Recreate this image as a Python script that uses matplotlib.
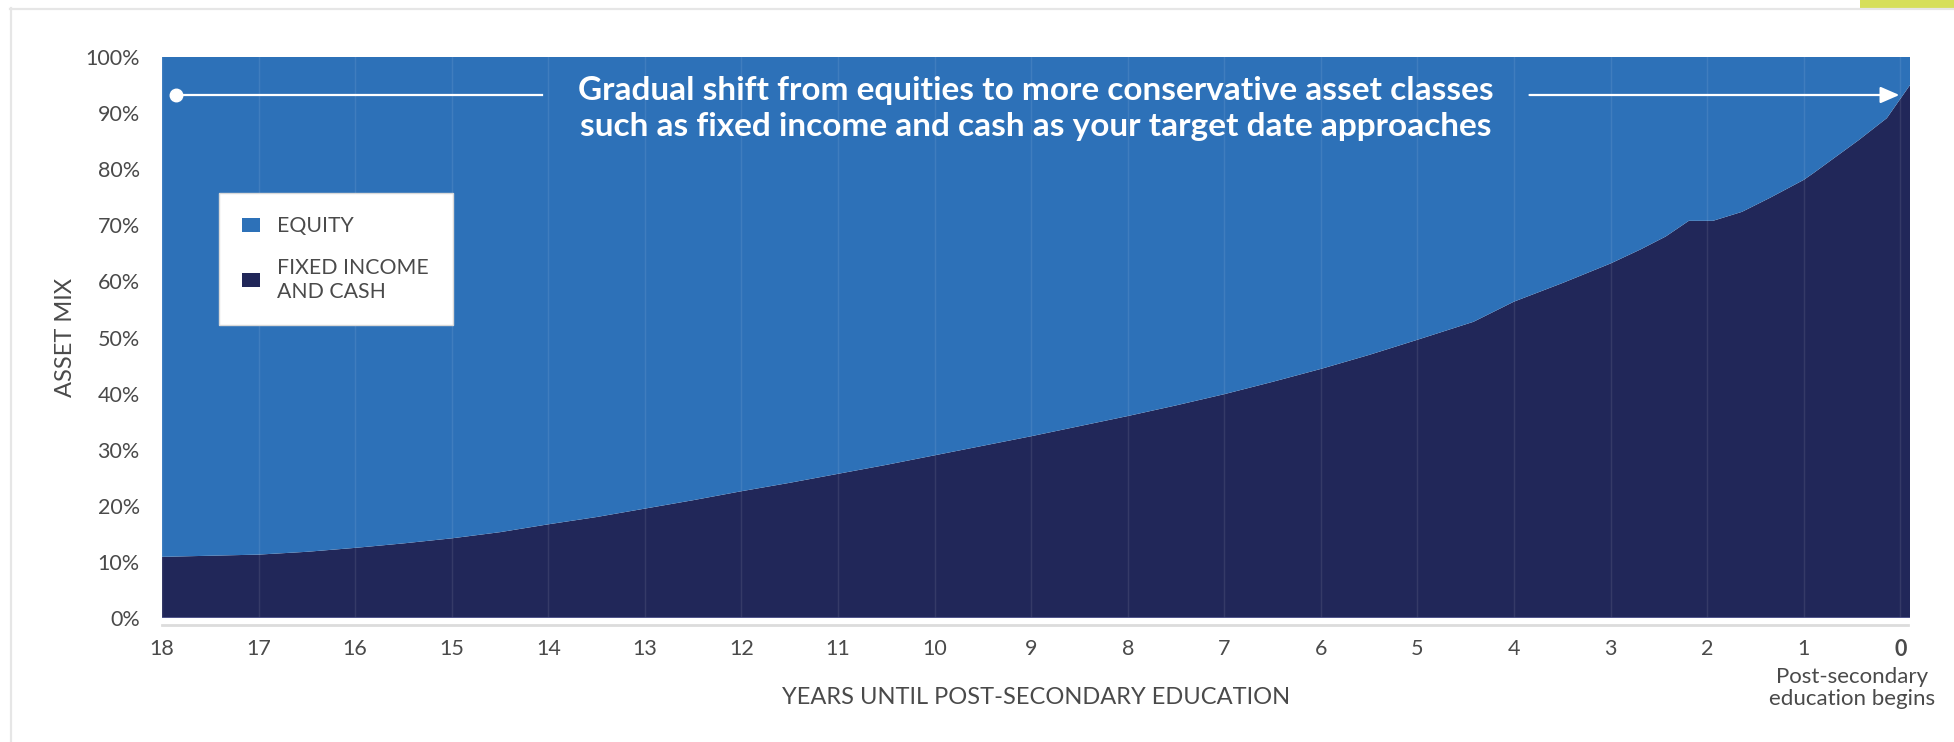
import matplotlib
matplotlib.use("Agg")
import matplotlib.pyplot as plt
from matplotlib.lines import Line2D
from matplotlib.patches import Rectangle, Patch

plt.rcParams['font.family'] = ['Lato', 'DejaVu Sans']

# ---- data ----
years = [18, 17.5, 17, 16.5, 16, 15.5, 15, 14.5, 14, 13.5, 13, 12.5, 12, 11.5, 11,
         10.5, 10, 9.5, 9, 8.5, 8, 7.5, 7, 6.5, 6, 5.5, 5, 4.42, 4, 3.5, 3,
         2.69, 2.43, 2.19, 1.94, 1.64, 1.35, 1, 0.9, 0.43, 0.14, -0.1]
fixed_income = [10.9, 11.1, 11.3, 11.8, 12.5, 13.3, 14.2, 15.3, 16.7, 18.0, 19.5, 21.0,
                22.6, 24.1, 25.7, 27.3, 29.0, 30.7, 32.4, 34.2, 36.0, 37.9, 39.9, 42.1,
                44.4, 46.9, 49.6, 52.8, 56.4, 59.7, 63.2, 65.7, 68.0, 70.8, 70.8, 72.4,
                74.9, 78.1, 79.3, 85.2, 89.1, 95.0]
equity = [100 - v for v in fixed_income]
series_labels = ["EQUITY", "FIXED INCOME\nAND CASH"]
x_ticks = list(range(18, -1, -1))
x_tick_labels = [str(t) for t in x_ticks]
y_ticks = list(range(0, 101, 10))
y_tick_labels = [f"{t}%" for t in y_ticks]
headline = ("Gradual shift from equities to more conservative asset classes\n"
            "such as fixed income and cash as your target date approaches")

EQ_COLOR = "#2d71b8"
FI_COLOR = "#212759"
TXT = "#4a4a4a"

W, H = 1954, 742
fig = plt.figure(figsize=(W / 100, H / 100), dpi=100)
fig.patch.set_facecolor("white")

# card border and tab
fig.add_artist(Line2D([10 / W, 1], [1 - 8.5 / H] * 2, color="#e6e6e6", lw=1.6))
fig.add_artist(Line2D([10.5 / W] * 2, [1 - 8 / H, 0], color="#e6e6e6", lw=1.6))
fig.add_artist(Rectangle((1860 / W, 1 - 8 / H), (W - 1860) / W, 8 / H,
                         transform=fig.transFigure, color="#d6df5a", lw=0))

L, R, T, B = 162, 1910, 57, 618
ax = fig.add_axes([L / W, 1 - B / H, (R - L) / W, (B - T) / H])

polys = ax.stackplot(years, fixed_income, equity, colors=[FI_COLOR, EQ_COLOR],
                     labels=[series_labels[1], series_labels[0]], lw=0)
ax.axhline(0, color="#5b6096", lw=1.2, zorder=3)

ax.set_xlim(18, -0.1)
ax.set_ylim(0, 100)
ax.set_axisbelow(False)
ax.grid(axis="x", color="white", alpha=0.09, lw=1)
ax.grid(axis="y", visible=False)

for s in ["top", "left", "right"]:
    ax.spines[s].set_visible(False)
ax.spines["bottom"].set_position(("outward", 5))
ax.spines["bottom"].set_color("#dcdcdc")
ax.spines["bottom"].set_linewidth(2)
ax.spines["bottom"].set_bounds(18, -0.08)

ax.set_xticks(x_ticks)
ax.set_xticklabels(x_tick_labels)
ax.set_yticks(y_ticks)
ax.set_yticklabels(y_tick_labels)
ax.tick_params(axis="both", length=0, labelsize=15.5, labelcolor=TXT)
ax.tick_params(axis="x", pad=10)
ax.tick_params(axis="y", pad=16)
ax.get_xticklabels()[-1].set_fontweight("bold")

ax.set_xlabel("YEARS UNTIL POST-SECONDARY EDUCATION", fontsize=17, color=TXT)
ax.xaxis.set_label_coords(0.5, (B - 698) / (B - T))
ax.xaxis.label.set_va("center")
ax.set_ylabel("ASSET MIX", fontsize=17, color=TXT)
ax.yaxis.set_label_coords((65 - L) / (R - L), 0.5)
ax.yaxis.label.set_va("center")

fig.text(1852 / W, 1 - 688 / H, "Post-secondary\neducation begins", ha="center",
         va="center", fontsize=16, color=TXT, linespacing=1.15)

# headline
ax.text(0.5, (B - 108.5) / (B - T), headline, transform=ax.transAxes, ha="center",
        va="center", fontsize=24, fontweight="bold", color="white", linespacing=1.33,
        multialignment="center")
y_arrow = (B - 95) / (B - T) * 100
ax.plot([17.86, 14.07], [y_arrow, y_arrow], color="white", lw=1.6)
ax.plot([17.86], [y_arrow], marker="o", ms=9, color="white")
ax.annotate("", xy=(0.01, y_arrow), xytext=(3.84, y_arrow),
            arrowprops=dict(arrowstyle="-|>,head_length=1.15,head_width=0.5",
                            color="white", lw=1.6, mutation_scale=10,
                            shrinkA=0, shrinkB=0))

handles = [Patch(facecolor=EQ_COLOR, label=series_labels[0]),
           Patch(facecolor=FI_COLOR, label=series_labels[1])]
leg = ax.legend(handles=handles, loc="upper left",
                bbox_to_anchor=((219 - L) / (R - L), (B - 193) / (B - T)),
                frameon=True, fancybox=False, edgecolor="#d9d9d9", facecolor="white",
                framealpha=1, fontsize=15.3, borderpad=1.1, handlelength=0.85,
                handleheight=0.65, handletextpad=0.8, labelspacing=1.0,
                labelcolor=TXT, borderaxespad=0)
leg.get_frame().set_linewidth(1)
for t in leg.get_texts():
    t.set_linespacing(1.25)

fig.savefig("out.png", dpi=100, facecolor="white")
